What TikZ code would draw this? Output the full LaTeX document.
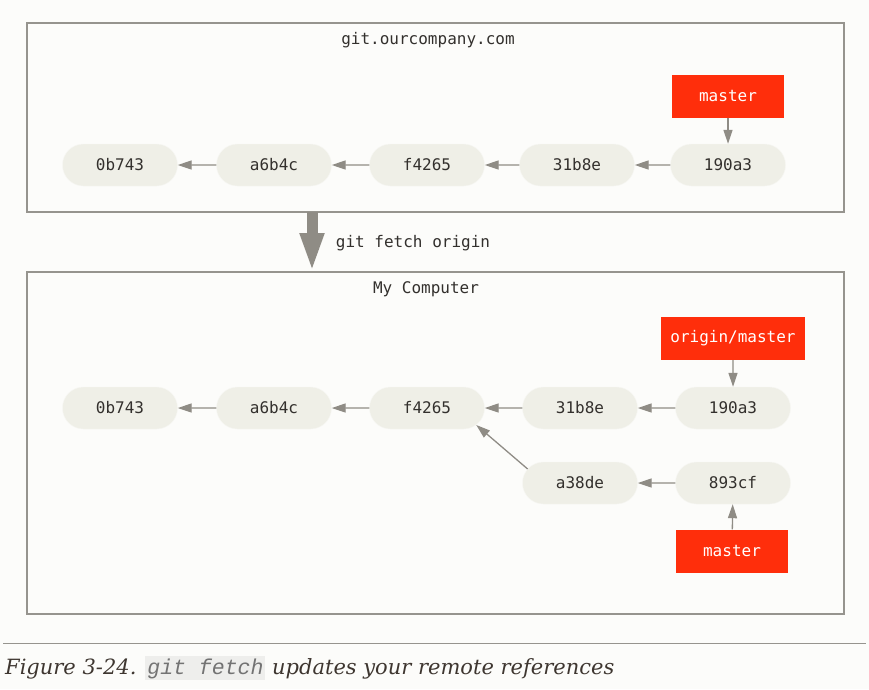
\documentclass[tikz,border=0pt]{standalone}
\usepackage{fontspec}
\setmainfont{DejaVu Serif}
\setmonofont{DejaVu Sans Mono}
\newfontfamily\captioncode{Liberation Mono}
\usetikzlibrary{arrows.meta,shapes.misc}
\definecolor{bgcol}{RGB}{252,252,250}
\definecolor{framecol}{RGB}{150,148,142}
\definecolor{commitfill}{RGB}{239,239,231}
\definecolor{branchred}{RGB}{255,46,11}
\definecolor{arrowcol}{RGB}{143,140,133}
\definecolor{textcol}{RGB}{51,48,45}
\definecolor{captioncol}{RGB}{62,54,48}
\definecolor{codebg}{RGB}{238,238,236}
\newcommand{\codefs}{\ttfamily\fontsize{16}{18}\selectfont}
\tikzset{
  commit/.style={rounded rectangle, fill=commitfill, draw=white!50!commitfill,
    minimum width=115pt, minimum height=42pt, inner sep=0pt, text=textcol, font=\codefs},
  branch/.style={rectangle, fill=branchred, text=white, minimum width=112pt,
    minimum height=43pt, inner sep=0pt, font=\codefs},
  parent/.style={-{Triangle[length=14pt,width=9pt]}, arrowcol, line width=1.3pt},
  boxtitle/.style={text=textcol, font=\codefs, inner sep=0pt},
}
\begin{document}
\begin{tikzpicture}[x=1pt,y=-1pt]
			\fill[bgcol] (0,0) rectangle (869,689);
			\useasboundingbox (0,0) rectangle (869,689);
			% server
			\draw[framecol, line width=1.3pt] (27,23) rectangle (844,212);
			\node[boxtitle] (server) at (428,40) {git.ourcompany.com};
			\node[commit] (s0) at (120,165) {0b743};
			\node[commit] (s1) at (274,165) {a6b4c};
			\node[commit] (s2) at (427,165) {f4265};
			\node[commit] (s3) at (577,165) {31b8e};
			\node[commit] (s4) at (728,165) {190a3};
			\node[branch] (smaster) at (728,96) {master};
			\draw[parent] (s1)--(s0);
			\draw[parent] (s2)--(s1);
			\draw[parent] (s3)--(s2);
			\draw[parent] (s4)--(s3);
			\draw[parent] (smaster)--(s4);
			% fetch
			\coordinate (fetchtop) at (312,212);
			\coordinate (fetchtip) at (312,272);
			\draw[arrowcol, line width=11pt, -{Triangle[length=39pt,width=22pt]}] (fetchtop)--(fetchtip);
			\node[boxtitle] (fetch) at (413,243) {git fetch origin};
			% local
			\draw[framecol, line width=1.3pt] (27,272) rectangle (844,614);
			\node[boxtitle] (local) at (426,289) {My Computer};
			\node[commit] (l0) at (120,408) {0b743};
			\node[commit] (l1) at (274,408) {a6b4c};
			\node[commit] (l2) at (427,408) {f4265};
			\node[commit] (l3) at (580,408) {31b8e};
			\node[commit] (l4) at (733,408) {190a3};
			\node[commit] (l5) at (580,483) {a38de};
			\node[commit] (l6) at (733,483) {893cf};
			\node[branch, minimum width=144pt] (origin) at (733,338.5) {origin/master};
			\node[branch] (lmaster) at (732,551) {master};
			\draw[parent] (l1)--(l0);
			\draw[parent] (l2)--(l1);
			\draw[parent] (l3)--(l2);
			\draw[parent] (l4)--(l3);
			\draw[parent] (l5.165)--(l2.341);
			\draw[parent] (l6)--(l5);
			\draw[parent] (origin)--(l4);
			\draw[parent] (lmaster)--(l6);
			% caption
			\draw[framecol, line width=1pt] (3,643)--(866,643);
			\node[anchor=base west, inner sep=0pt, text=captioncol, font=\itshape\fontsize{21}{24}\selectfont] (caption) at (5,674)
				{Figure 3-24. {\setlength{\fboxsep}{2pt}\colorbox{codebg}{\color{gray!90!black}\captioncode\itshape\fontsize{21.5}{24}\selectfont git fetch}} updates your remote references};
		\end{tikzpicture}
\end{document}
